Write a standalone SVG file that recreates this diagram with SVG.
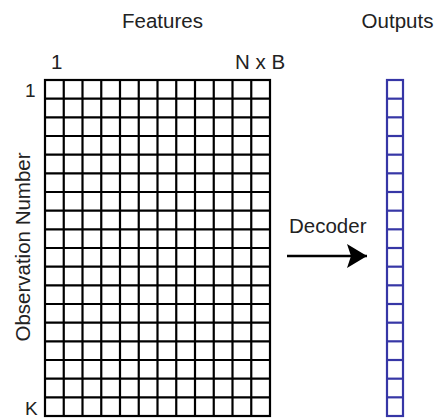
<svg xmlns="http://www.w3.org/2000/svg" width="437" height="418" viewBox="0 0 437 418">
<style>
text{font-family:"Liberation Sans",Arial,sans-serif;fill:#222;}
.t{font-size:20.5px;}
.s{font-size:19px;}
.grid line,.grid rect{stroke:#000;stroke-width:2.2;fill:none;}
.out line,.out rect{stroke:#3636a6;stroke-width:2.2;fill:none;}
</style>
<defs>
<marker id="ah" markerWidth="22" markerHeight="26" refX="20" refY="13" orient="auto" markerUnits="userSpaceOnUse">
<path d="M20,13 L0,1 L4,13 L0,25 Z" fill="#000"/>
</marker>
</defs>
<text class="t" x="162.5" y="28" text-anchor="middle">Features</text>
<text class="t" x="397.5" y="28" text-anchor="middle">Outputs</text>
<g id="features">
<g class="grid">
<rect x="45" y="80" width="225" height="336"/>
<line x1="63.75" y1="80" x2="63.75" y2="416"/>
<line x1="82.5" y1="80" x2="82.5" y2="416"/>
<line x1="101.25" y1="80" x2="101.25" y2="416"/>
<line x1="120" y1="80" x2="120" y2="416"/>
<line x1="138.75" y1="80" x2="138.75" y2="416"/>
<line x1="157.5" y1="80" x2="157.5" y2="416"/>
<line x1="176.25" y1="80" x2="176.25" y2="416"/>
<line x1="195" y1="80" x2="195" y2="416"/>
<line x1="213.75" y1="80" x2="213.75" y2="416"/>
<line x1="232.5" y1="80" x2="232.5" y2="416"/>
<line x1="251.25" y1="80" x2="251.25" y2="416"/>
<line x1="45" y1="98.67" x2="270" y2="98.67"/>
<line x1="45" y1="117.33" x2="270" y2="117.33"/>
<line x1="45" y1="136" x2="270" y2="136"/>
<line x1="45" y1="154.67" x2="270" y2="154.67"/>
<line x1="45" y1="173.33" x2="270" y2="173.33"/>
<line x1="45" y1="192" x2="270" y2="192"/>
<line x1="45" y1="210.67" x2="270" y2="210.67"/>
<line x1="45" y1="229.33" x2="270" y2="229.33"/>
<line x1="45" y1="248" x2="270" y2="248"/>
<line x1="45" y1="266.67" x2="270" y2="266.67"/>
<line x1="45" y1="285.33" x2="270" y2="285.33"/>
<line x1="45" y1="304" x2="270" y2="304"/>
<line x1="45" y1="322.67" x2="270" y2="322.67"/>
<line x1="45" y1="341.33" x2="270" y2="341.33"/>
<line x1="45" y1="360" x2="270" y2="360"/>
<line x1="45" y1="378.67" x2="270" y2="378.67"/>
<line x1="45" y1="397.33" x2="270" y2="397.33"/>
</g>
<text class="t" x="51" y="69">1</text>
<text class="t" x="235" y="69">N x B</text>
<text class="s" x="25" y="97">1</text>
<text class="s" x="25" y="415">K</text>
<text class="t" transform="translate(30,247) rotate(-90)" text-anchor="middle">Observation Number</text>
</g>
<g id="outputs">
<g class="out">
<rect x="387" y="80" width="16" height="336"/>
<line x1="387" y1="98.67" x2="403" y2="98.67"/>
<line x1="387" y1="117.33" x2="403" y2="117.33"/>
<line x1="387" y1="136" x2="403" y2="136"/>
<line x1="387" y1="154.67" x2="403" y2="154.67"/>
<line x1="387" y1="173.33" x2="403" y2="173.33"/>
<line x1="387" y1="192" x2="403" y2="192"/>
<line x1="387" y1="210.67" x2="403" y2="210.67"/>
<line x1="387" y1="229.33" x2="403" y2="229.33"/>
<line x1="387" y1="248" x2="403" y2="248"/>
<line x1="387" y1="266.67" x2="403" y2="266.67"/>
<line x1="387" y1="285.33" x2="403" y2="285.33"/>
<line x1="387" y1="304" x2="403" y2="304"/>
<line x1="387" y1="322.67" x2="403" y2="322.67"/>
<line x1="387" y1="341.33" x2="403" y2="341.33"/>
<line x1="387" y1="360" x2="403" y2="360"/>
<line x1="387" y1="378.67" x2="403" y2="378.67"/>
<line x1="387" y1="397.33" x2="403" y2="397.33"/>
</g>
</g>
<g id="connectors">
<line x1="287" y1="256" x2="367" y2="256" stroke="#000" stroke-width="2.5" marker-end="url(#ah)"/>
<text class="t" x="289" y="233">Decoder</text>
</g>
</svg>
